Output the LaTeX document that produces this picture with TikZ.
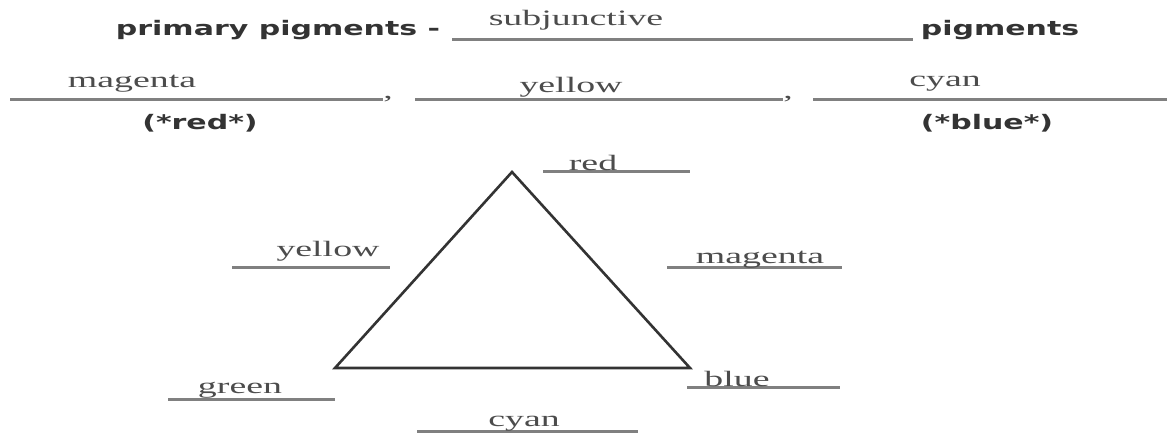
\documentclass[tikz,border=0pt]{standalone}
\usepackage{fontspec}
\usepackage{graphicx}
\setmainfont{Liberation Serif}
\newfontfamily\ttlfont{DejaVu Sans}
\newcommand\serlbl[1]{\scalebox{1.72}[1]{\fontsize{22}{22}\selectfont #1}}
\newcommand\ttllbl[1]{\scalebox{1.5}[1]{\ttlfont\bfseries\fontsize{20}{20}\selectfont #1}}
\begin{document}
\begin{tikzpicture}[x=1pt,y=-1pt,
  serif label/.style={anchor=base,inner sep=0pt,text=black!70},
  title label/.style={anchor=base,inner sep=0pt,text=black!80},
  blank/.style={draw=black!50,line width=3pt},
  tri/.style={draw=black!80,line width=2.6pt,line join=miter}]
\useasboundingbox[fill=white] (0,0) rectangle (1167,433);

% title row
\node[title label] (t1) at (278,36) {\ttllbl{primary pigments -}};
\coordinate (b0s) at (452,40); \coordinate (b0e) at (913,40);
\draw[blank] (b0s) -- (b0e);
\node[serif label] (ans0) at (576,26) {\serlbl{subjunctive}};
\node[title label] (t2) at (1000,36) {\ttllbl{pigments}};

% second row
\coordinate (b1s) at (10,100); \coordinate (b1e) at (383,100);
\draw[blank] (b1s) -- (b1e);
\node[serif label] (c1) at (388,99) {\serlbl{,}};
\node[serif label] (ans1) at (132,88) {\serlbl{magenta}};
\node[title label] (h1) at (200,130) {\ttllbl{(*red*)}};

\coordinate (b2s) at (415,100); \coordinate (b2e) at (783,100);
\draw[blank] (b2s) -- (b2e);
\node[serif label] (c2) at (788,99) {\serlbl{,}};
\node[serif label] (ans2) at (571,93) {\serlbl{yellow}};

\coordinate (b3s) at (813,100); \coordinate (b3e) at (1167,100);
\draw[blank] (b3s) -- (b3e);
\node[serif label] (ans3) at (945,87) {\serlbl{cyan}};
\node[title label] (h3) at (987,130) {\ttllbl{(*blue*)}};

% triangle
\coordinate (apex) at (512,172);
\coordinate (bl) at (335,368);
\coordinate (br) at (690,368);
\draw[tri] (apex) -- (bl) -- (br) -- cycle;

% triangle labels
\coordinate (lr1) at (543,171); \coordinate (lr2) at (690,171);
\draw[blank] (lr1) -- (lr2);
\node[serif label] (red) at (593,170) {\serlbl{red}};

\coordinate (ly1) at (232,267); \coordinate (ly2) at (390,267);
\draw[blank] (ly1) -- (ly2);
\node[serif label] (yel) at (328,256) {\serlbl{yellow}};

\coordinate (lm1) at (667,267); \coordinate (lm2) at (842,267);
\draw[blank] (lm1) -- (lm2);
\node[serif label] (mag) at (760,263) {\serlbl{magenta}};

\coordinate (lg1) at (168,399); \coordinate (lg2) at (335,399);
\draw[blank] (lg1) -- (lg2);
\node[serif label] (grn) at (240,393) {\serlbl{green}};

\coordinate (lb1) at (687,387); \coordinate (lb2) at (840,387);
\draw[blank] (lb1) -- (lb2);
\node[serif label] (blu) at (737,386) {\serlbl{blue}};

\coordinate (lc1) at (417,431); \coordinate (lc2) at (638,431);
\draw[blank] (lc1) -- (lc2);
\node[serif label] (cyn) at (524,426) {\serlbl{cyan}};
\end{tikzpicture}
\end{document}
